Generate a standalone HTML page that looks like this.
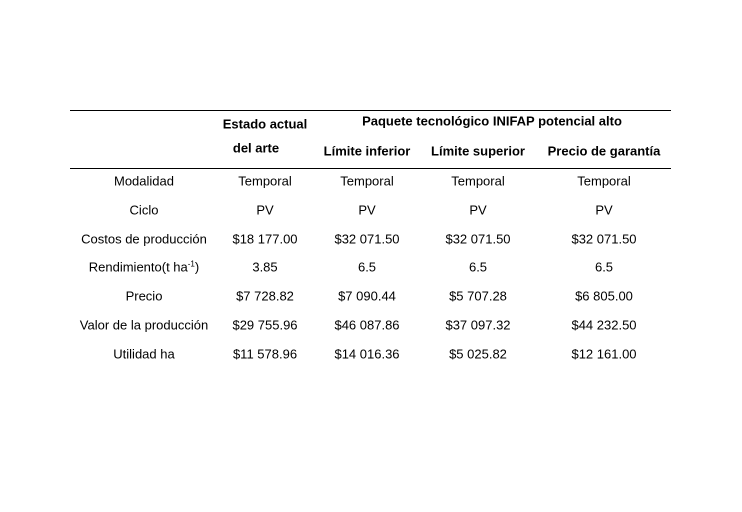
<!DOCTYPE html>
<html><head><meta charset="utf-8"><style>
body{margin:0;width:742px;height:512px;background:#fff;position:relative;font-family:"Liberation Sans",sans-serif;font-size:13px;color:#000;overflow:hidden}
.t{position:absolute;transform:translate(-50%,-50%);white-space:nowrap}
.b{font-weight:bold}
.rule{position:absolute;left:70px;width:601px;height:1px;background:#000}
sup{font-size:8px}
</style></head><body>
<div class="rule" style="top:110px"></div>
<div class="rule" style="top:168px"></div>
<div class="t b" style="left:265px;top:124px">Estado actual</div>
<div class="t b" style="left:256px;top:148px">del arte</div>
<div class="t b" style="left:492px;top:121px">Paquete tecnológico INIFAP potencial alto</div>
<div class="t b" style="left:367px;top:151px">Límite inferior</div>
<div class="t b" style="left:478px;top:151px">Límite superior</div>
<div class="t b" style="left:604px;top:151px">Precio de garantía</div>
<div id="rows"></div>
<script>
const labels=["Modalidad","Ciclo","Costos de producción","Rendimiento(t ha<sup>-1</sup>)","Precio","Valor de la producción","Utilidad ha"];
const c1=["Temporal","PV","$18 177.00","3.85","$7 728.82","$29 755.96","$11 578.96"];
const c2=["Temporal","PV","$32 071.50","6.5","$7 090.44","$46 087.86","$14 016.36"];
const c3=["Temporal","PV","$32 071.50","6.5","$5 707.28","$37 097.32","$5 025.82"];
const c4=["Temporal","PV","$32 071.50","6.5","$6 805.00","$44 232.50","$12 161.00"];
const cols=[labels,c1,c2,c3,c4];
const xs=[144,265,367,478,604];
const names=["row-label","estado-actual","limite-inferior","limite-superior","precio-garantia"];
cols.forEach((col,ci)=>col.forEach((v,ri)=>{
 const d=document.createElement('div');
 d.className='t';
 d.style.left=xs[ci]+'px';
 d.style.top=(181+ri*28.8)+'px';
 d.innerHTML=v;
 
 
 document.body.appendChild(d);
}));
</script>
</body></html>
